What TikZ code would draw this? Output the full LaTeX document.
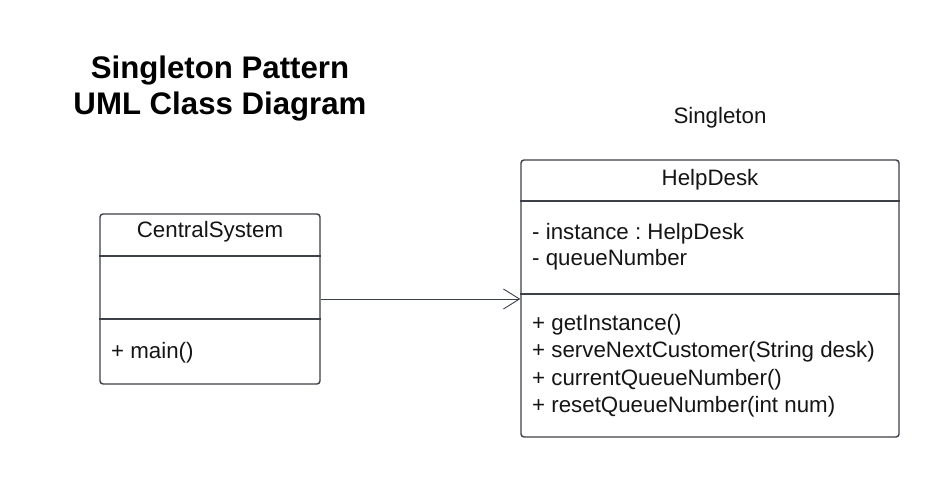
\documentclass[tikz,border=0pt]{standalone}
\usepackage{fontspec}
\setmainfont{Liberation Sans}
\frenchspacing
\usetikzlibrary{arrows.meta}
\definecolor{umlline}{HTML}{3C4049}
\definecolor{umltext}{HTML}{151515}
\tikzset{
	umlclass/.style={draw=umlline, line width=1.4pt, rounded corners=3pt, fill=white, inner sep=0pt},
	umlsep/.style={draw=umlline, line width=1.4pt},
	member/.style={anchor=base west, inner sep=0pt, text=umltext, font=\fontsize{22.3}{27}\selectfont},
	classname/.style={inner sep=0pt, text=umltext, font=\fontsize{22.3}{27}\selectfont},
	assoc/.style={draw=umlline, line width=0.9pt, -{Straight Barb[length=16pt, width=20pt, line width=0.9pt]}}
}
\begin{document}
\begin{tikzpicture}[x=1pt,y=-1pt]
	\useasboundingbox (0,0) rectangle (940,478);
	\node[align=center, text=black, font=\bfseries\fontsize{31.2}{36}\selectfont] (title) at (220,89) {Singleton Pattern\\UML Class Diagram};
	\node[classname] (stereo) at (720,118) {Singleton};

	\node[umlclass, minimum width=220pt, minimum height=170pt] (central) at (210,299) {};
	\draw[umlsep] (central.west |- 0,256) -- (central.east |- 0,256);
	\draw[umlsep] (central.west |- 0,319) -- (central.east |- 0,319);
	\node[classname] (centralname) at (210,232) {CentralSystem};
	\node[member] (centralop) at (111,359) {+ main()};

	\node[umlclass, minimum width=378pt, minimum height=277pt] (helpdesk) at (710,298.5) {};
	\draw[umlsep] (helpdesk.west |- 0,201) -- (helpdesk.east |- 0,201);
	\draw[umlsep] (helpdesk.west |- 0,294) -- (helpdesk.east |- 0,294);
	\node[classname] (helpdeskname) at (710,180) {HelpDesk};
	\foreach \txt [count=\i] in {- instance : HelpDesk, - queueNumber}
		\node[member] (hdattr\i) at (532,240+26*\i-26) {\txt};
	\foreach \txt [count=\i] in {+ getInstance(), + serveNextCustomer(String desk), + currentQueueNumber(), + resetQueueNumber(int num)}
		\node[member] (hdop\i) at (532,331+27*\i-27) {\txt};

	\draw[assoc] (central.east |- 0,299) -- (helpdesk.west |- 0,299);
\end{tikzpicture}
\end{document}
